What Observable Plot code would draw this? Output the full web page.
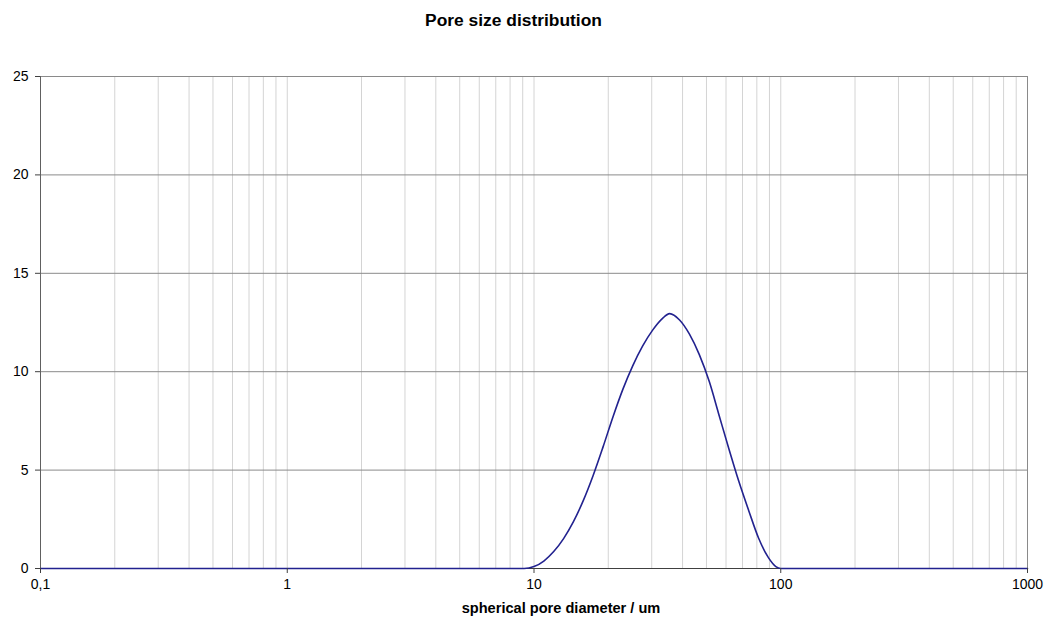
<!DOCTYPE html>
<html>
<head>
<meta charset="utf-8">
<script src="https://cdn.jsdelivr.net/npm/d3@7"></script>
<script src="https://cdn.jsdelivr.net/npm/@observablehq/plot@0.6"></script>
<style>
  body { margin: 0; background: #fff; font-family: "Liberation Sans", Arial, sans-serif; }
  #title { height: 36px; line-height: 40px; text-align: center; font-weight: bold; font-size: 17.4px; color: #000; padding-right: 22px; }
</style>
</head>
<body>
<div id="title">Pore size distribution</div>
<div id="chart"></div>
<script>
const diameter = [0.1, 1, 9.12, 10, 10.96, 12.02, 13.18, 14.45, 15.85, 17.38, 19.05, 20.89, 22.91, 25.12, 27.54, 30.2, 33.11, 35.48, 38.9, 42.66, 46.77, 51.29, 56.23, 61.66, 67.61, 74.13, 81.28, 89.13, 95.5, 100, 1000];
const volume   = [0, 0, 0, 0.10, 0.38, 0.86, 1.52, 2.38, 3.46, 4.74, 6.18, 7.70, 9.10, 10.30, 11.30, 12.10, 12.70, 12.95, 12.63, 11.91, 10.87, 9.51, 7.79, 6.07, 4.43, 2.95, 1.55, 0.55, 0.10, 0, 0];
const xTicks = [0.1, 1, 10, 100, 1000];
const xTickLabels = ["0,1", "1", "10", "100", "1000"];
const yTicks = [0, 5, 10, 15, 20, 25];
const xLabel = "spherical pore diameter / um";

const data = diameter.map((d, i) => ({d, v: volume[i]}));
const xMinor = d3.scaleLog().domain([0.1, 1000]).ticks();

const chart = Plot.plot({
  width: 1049,
  height: 587,
  marginLeft: 40,
  marginRight: 22,
  marginTop: 40,
  marginBottom: 55,
  style: {fontFamily: "'Liberation Sans', Arial, sans-serif", fontSize: "14px", color: "#000", background: "#fff"},
  x: {type: "log", domain: [0.1, 1000]},
  y: {domain: [0, 25]},
  marks: [
    Plot.ruleX(xMinor, {stroke: "#d4d4d4", strokeWidth: 1}),
    Plot.ruleY(yTicks.filter(t => t > 0), {stroke: "#8a8a8a", strokeWidth: 1}),
    Plot.ruleX([1000], {stroke: "#8a8a8a", strokeWidth: 1}),
    Plot.ruleX([0.1], {stroke: "#606060", strokeWidth: 1}),
    Plot.ruleY([0], {stroke: "#404040", strokeWidth: 1}),
    Plot.line(data, {x: "d", y: "v", stroke: "#22228f", strokeWidth: 1.6, curve: "monotone-x"}),
    Plot.axisX(xTicks, {
      tickSize: 5, tickPadding: 6, stroke: "#404040",
      tickFormat: (t) => xTickLabels[xTicks.indexOf(t)],
      label: null, fontSize: 14
    }),
    Plot.axisY(yTicks, {tickSize: 5, tickPadding: 7, stroke: "#404040", label: null, fontSize: 14}),
    Plot.text([xLabel], {frameAnchor: "bottom", dy: 44, dx: 27, fontWeight: "bold", fontSize: 14.6, text: d => d})
  ]
});
document.getElementById("chart").appendChild(chart);
</script>
</body>
</html>
